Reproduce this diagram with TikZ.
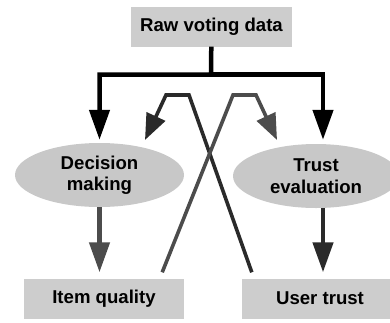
\documentclass[tikz,border=0pt]{standalone}
\usepackage{fontspec}
\setmainfont{Liberation Sans}
\usetikzlibrary{arrows.meta,shapes.geometric}
\definecolor{boxgray}{HTML}{CDCDCD}
\definecolor{ovalgray}{HTML}{C8C8C8}
\definecolor{midgray}{HTML}{4C4C4C}
\definecolor{darkgray}{HTML}{2A2A2A}

\begin{document}
\begin{tikzpicture}[x=1pt, y=-1pt,
  font=\bfseries\fontsize{18.6}{21.5}\selectfont,
  box/.style={fill=boxgray, minimum width=#1, minimum height=40pt, inner sep=0pt},
  oval/.style={ellipse, fill=ovalgray, minimum width=#1, minimum height=64pt, inner sep=0pt, align=center},
  feed/.style={line width=4.5pt, -{Triangle[length=30pt,width=20pt]}},
  back/.style={line width=3.6pt, line join=miter, -{Triangle[length=26pt,width=20pt]}}]
  \useasboundingbox (0,0) rectangle (390,322);
  \node[box=161pt] (raw) at (211.5,26.5) {Raw voting data};
  \node[oval=169pt] (dm) at (99.5,175) {Decision\\making};
  \node[oval=166pt] (te) at (316,176) {Trust\\evaluation};
  \node[box=160pt] (iq) at (104,298.5) {Item quality};
  \node[box=156pt] (ut) at (320,298.5) {User trust};
  % split of the raw data
  \coordinate (split) at (211,74.5);
  \draw[feed] (raw) -- (split) -| ([yshift=3pt]dm.north);
  \draw[feed] (split) -| ([xshift=7pt,yshift=4pt]te.north);
  \draw[feed, midgray, shorten >=6pt] (dm.south) -- (dm.south |- iq.north);
  \draw[feed, darkgray, shorten >=6pt] ([xshift=7pt]te.south) -- ([xshift=7pt]te.south |- ut.north);
  % feedback lines
  \coordinate (lb1) at (189,95);
  \coordinate (lb2) at (166,95);
  \coordinate (ltip) at (145,140);
  \coordinate (rb1) at (233,95);
  \coordinate (rb2) at (256,95);
  \coordinate (rtip) at (277,140);
  \draw[back, darkgray] ([xshift=10pt,yshift=6pt]ut.north west) -- (lb1) -- (lb2) -- (ltip);
  \draw[back, midgray] ([xshift=-22pt,yshift=6pt]iq.north east) -- (rb1) -- (rb2) -- (rtip);
\end{tikzpicture}
\end{document}
